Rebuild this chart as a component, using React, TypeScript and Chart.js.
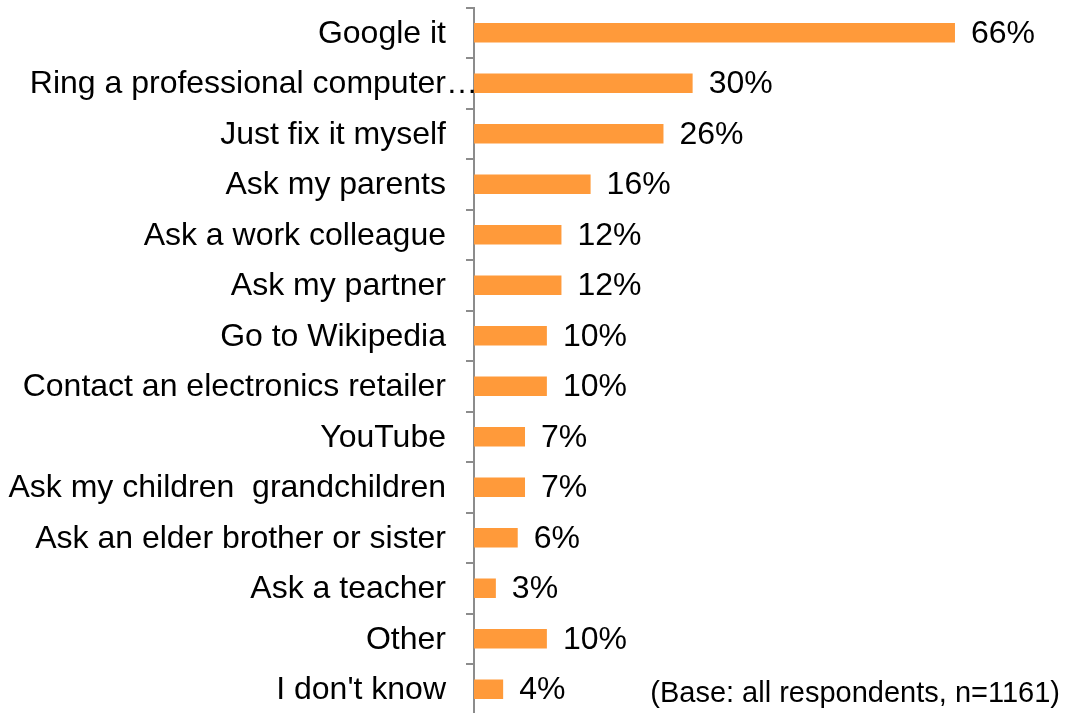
import React, { useEffect, useRef } from "react";
import { Chart, registerables } from "chart.js";

Chart.register(...registerables);

const categories: string[] = [
  "Google it",
  "Ring a professional computer…",
  "Just fix it myself",
  "Ask my parents",
  "Ask a work colleague",
  "Ask my partner",
  "Go to Wikipedia",
  "Contact an electronics retailer",
  "YouTube",
  "Ask my children  grandchildren",
  "Ask an elder brother or sister",
  "Ask a teacher",
  "Other",
  "I don't know",
];

const shares: number[] = [66, 30, 26, 16, 12, 12, 10, 10, 7, 7, 6, 3, 10, 4];

const baseNote = "(Base: all respondents, n=1161)";

const FONT = "'Liberation Sans', Arial, Helvetica, sans-serif";
const BAR_COLOR = "#FF9A3A";
const AXIS_COLOR = "#8c8c8c";

// Category names next to the axis; a name cut short with an ellipsis
// runs right up to the axis line, the rest stop short of the tick marks.
const categoryLabels = {
  id: "categoryLabels",
  afterDraw(chart: any) {
    const ctx = chart.ctx;
    const y = chart.scales.y;
    ctx.save();
    ctx.font = `32px ${FONT}`;
    ctx.fillStyle = "#000";
    ctx.textAlign = "right";
    ctx.textBaseline = "middle";
    categories.forEach((name, i) => {
      const py = y.getPixelForValue(i) + 1;
      const truncated = name.endsWith("…");
      const px = truncated ? y.right + 4 : y.right - 28;
      ctx.fillText(name, px, py);
    });
    ctx.restore();
  },
};

const valueLabels = {
  id: "valueLabels",
  afterDatasetsDraw(chart: any) {
    const ctx = chart.ctx;
    const meta = chart.getDatasetMeta(0);
    ctx.save();
    ctx.font = `32px ${FONT}`;
    ctx.fillStyle = "#000";
    ctx.textAlign = "left";
    ctx.textBaseline = "middle";
    meta.data.forEach((bar: any, i: number) => {
      ctx.fillText(`${shares[i]}%`, bar.x + 16, bar.y + 1);
    });
    ctx.restore();
  },
};

const footNote = {
  id: "footNote",
  afterDraw(chart: any) {
    const ctx = chart.ctx;
    ctx.save();
    ctx.font = `29px ${FONT}`;
    ctx.fillStyle = "#000";
    ctx.textAlign = "right";
    ctx.textBaseline = "alphabetic";
    ctx.fillText(baseNote, 1060, 702);
    ctx.restore();
  },
};

export default function App() {
  const canvasRef = useRef<HTMLCanvasElement | null>(null);

  useEffect(() => {
    if (!canvasRef.current) return;
    const chart = new Chart(canvasRef.current, {
      type: "bar",
      data: {
        labels: categories,
        datasets: [
          {
            data: shares,
            backgroundColor: BAR_COLOR,
            borderWidth: 0,
            categoryPercentage: 1,
            barPercentage: 0.39,
          },
        ],
      },
      options: {
        indexAxis: "y",
        responsive: false,
        animation: false,
        devicePixelRatio: 1,
        layout: { padding: { top: 7.5, bottom: 5.5, left: 0, right: 8 } },
        plugins: {
          legend: { display: false },
          tooltip: { enabled: false },
        },
        scales: {
          x: {
            display: false,
            min: 0,
            max: 80,
          },
          y: {
            afterFit: (scale: any) => {
              scale.width = 474;
              scale.paddingTop = 0;
              scale.paddingBottom = 0;
            },
            border: { display: true, color: AXIS_COLOR, width: 2 },
            grid: {
              display: true,
              drawOnChartArea: false,
              drawTicks: true,
              tickLength: 8,
              color: AXIS_COLOR,
              lineWidth: 2,
              offset: true,
            },
            ticks: {
              display: false,
              autoSkip: false,
            },
          },
        },
      },
      plugins: [valueLabels, categoryLabels, footNote],
    });
    return () => chart.destroy();
  }, []);

  return (
    <div
      style={{
        position: "absolute",
        left: 0,
        top: 0,
        width: 1065,
        height: 713,
        overflow: "hidden",
        background: "#fff",
      }}
    >
      <canvas ref={canvasRef} width={1065} height={720} style={{ display: "block" }} />
    </div>
  );
}
